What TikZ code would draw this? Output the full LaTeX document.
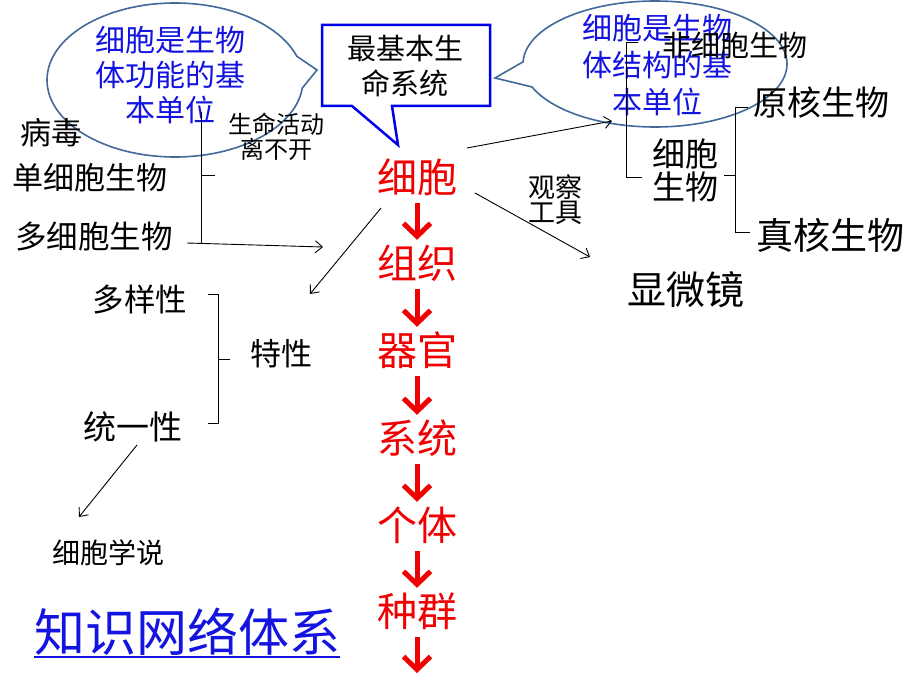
\documentclass[tikz,border=0pt]{standalone}
\usepackage{fontspec}
\setmainfont{Noto Sans CJK SC}
\usetikzlibrary{arrows.meta}
\definecolor{ellblue}{RGB}{65,105,155}
\definecolor{txtblue}{RGB}{20,20,225}
\definecolor{boxblue}{RGB}{0,0,235}
\definecolor{chainred}{RGB}{240,0,0}
\newcommand{\fsz}[2]{\fontsize{#1pt}{#2pt}\selectfont}
\begin{document}
\begin{tikzpicture}[x=1pt,y=-1pt,
  txt/.style={inner sep=0pt, font=\fsz{#1}{#1}, text height={0.88*#1pt}, text depth={0.12*#1pt}},
  mtxt/.style={inner sep=0pt, align=center},
  chain/.style={txt=40, text=chainred},
  redarrow/.style={draw=chainred, line width=5pt, -{Straight Barb[length=13pt,width=27pt]}, shorten <=6pt, shorten >=3pt},
  thinarrow/.style={draw, line width=0.9pt, -{Straight Barb[length=7pt,width=12pt]}},
  brace/.style={draw, line width=0.9pt},
  ellcall/.style={draw=ellblue, line width=1.6pt},
  boxcall/.style={draw=boxblue, line width=2.5pt}]
\useasboundingbox (0,0) rectangle (920,690);
\fill[white] (0,0) rectangle (920,690);

% callout shapes
\draw[ellcall] (175,80) ++(6:128 and 77) arc[start angle=6, end angle=342, x radius=128, y radius=77] -- (317,70) -- cycle;
\draw[ellcall] (655,64) ++(182:132 and 63) arc[start angle=182, end angle=518.6, x radius=132, y radius=63] -- (495,78) -- cycle;
\draw[boxcall] (322,25) -- (490,25) -- (490,106) -- (392,106) -- (398,145) -- (352,106) -- (322,106) -- cycle;

% callout texts
\node[mtxt, font=\fsz{30}{35}, text=txtblue] (lcall) at (170,75) {细胞是生物\\体功能的基\\本单位};
\node[mtxt, font=\fsz{29}{35}] (mcall) at (405,66) {最基本生\\命系统};
\node[mtxt, font=\fsz{30}{37}, text=txtblue] (rcall) at (657,65) {细胞是生物\\体结构的基\\本单位};

% right side
\node[txt=29] (noncell) at (735,45) {非细胞生物};
\node[txt=34] (prok) at (821,103) {原核生物};
\node[mtxt, font=\fsz{33}{33}] (cellorg) at (685,170) {细胞\\生物};
\node[txt=37] (euk) at (830,235) {真核生物};
\node[txt=39] (micro) at (686,290) {显微镜};
\node[mtxt, font=\fsz{27}{25}] (tool) at (555,200) {观察\\工具};

% central chain
\node[chain] (c1) at (417,177) {细胞};
\node[chain] (c2) at (417,263) {组织};
\node[chain] (c3) at (417,350) {器官};
\node[chain] (c4) at (417,438) {系统};
\node[chain] (c5) at (417,525) {个体};
\node[chain] (c6) at (417,611) {种群};
\coordinate (cend) at (417,676);
\draw[redarrow] (c1.south) -- (c2.north);
\draw[redarrow] (c2.south) -- (c3.north);
\draw[redarrow] (c3.south) -- (c4.north);
\draw[redarrow] (c4.south) -- (c5.north);
\draw[redarrow] (c5.south) -- (c6.north);
\draw[redarrow] (c6.south) -- (cend);

% left side
\node[txt=31] (virus) at (51,133) {病毒};
\node[txt=31] (uni) at (90,178) {单细胞生物};
\node[txt=31.5] (multi) at (94,237) {多细胞生物};
\node[mtxt, font=\fsz{24}{25}] (life) at (276,137) {生命活动\\离不开};
\node[txt=31.5] (div) at (140,300) {多样性};
\node[txt=33] (unity) at (133,427) {统一性};
\node[txt=31] (trait) at (281,354) {特性};
\node[txt=28] (theory) at (108,553) {细胞学说};
\node[txt=51, text=txtblue] (title) at (187,632) {知识网络体系};
\draw[txtblue, line width=2.2pt] ([yshift=1pt]title.south west) -- ([yshift=1pt]title.south east);

% braces
\draw[brace] (201,112) -- (201,243);
\draw[brace] (201,175) -- (215,175);
\draw[brace] (638,42) -- (626,42) -- (626,177) -- (642,177);
\draw[brace] (748,107) -- (735,107) -- (735,232) -- (750,232);
\draw[brace] (735,175) -- (724,175);
\draw[brace] (208,294) -- (218,294) -- (218,423) -- (208,423);
\draw[brace] (218,359) -- (230,359);

% thin arrows
\coordinate (lb) at (187,243);
\coordinate (lbend) at (323,247);
\coordinate (c1sw) at (381,208);
\coordinate (divend) at (310,294);
\coordinate (unis) at (137,445);
\coordinate (theoryend) at (79,517);
\coordinate (c1ne) at (467,148);
\coordinate (bracemid) at (612,121);
\coordinate (c1se) at (475,193);
\coordinate (microend) at (590,257);
\draw[thinarrow] (lb) -- (lbend);
\draw[thinarrow] (c1sw) -- (divend);
\draw[thinarrow] (unis) -- (theoryend);
\draw[thinarrow] (c1ne) -- (bracemid);
\draw[thinarrow] (c1se) -- (microend);
\end{tikzpicture}
\end{document}
